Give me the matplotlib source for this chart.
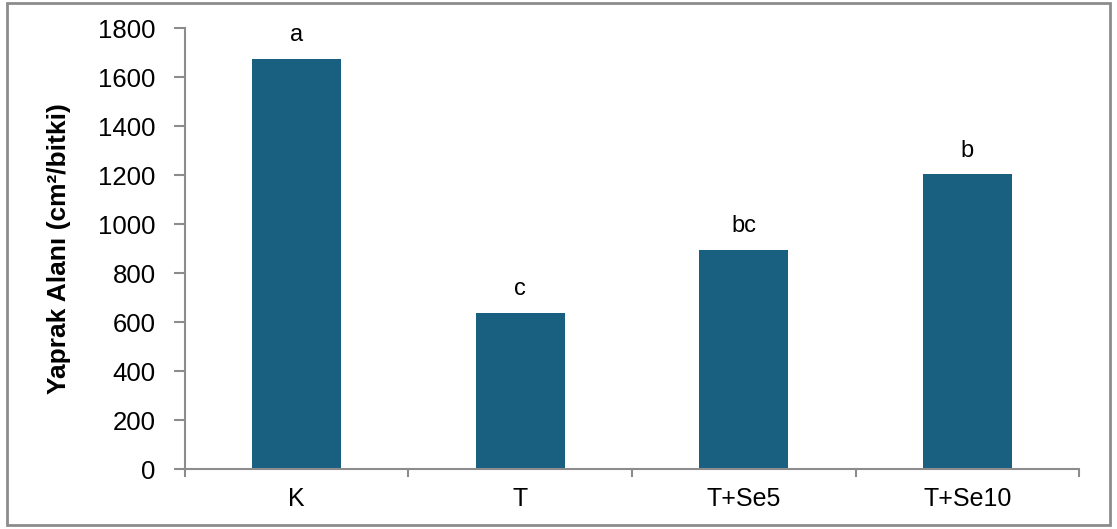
import matplotlib.pyplot as plt
from matplotlib.patches import Rectangle
import numpy as np

plt.rcParams['font.family'] = ['Liberation Sans', 'DejaVu Sans']

groups = ['K', 'T', 'T+Se5', 'T+Se10']
leaf_area = [1675, 637, 895, 1203]
letters = ['a', 'c', 'bc', 'b']

bar_color = '#185F80'
spine_color = '#8C8C8C'

fig = plt.figure(figsize=(11.17, 5.29), dpi=100)
ax = fig.add_axes([0.1656, 0.1134, 0.8004, 0.8336])

x = np.arange(len(groups))
bars = ax.bar(x, leaf_area, width=0.4, color=bar_color)

for rect, lab in zip(bars, letters):
    ax.annotate(lab, (rect.get_x() + rect.get_width() / 2, rect.get_height()),
                xytext=(0, 9), textcoords='offset points',
                ha='center', va='bottom', fontsize=17)

ax.set_xlim(-0.5, len(groups) - 0.5)
ax.set_ylim(0, 1800)
ax.set_yticks(range(0, 1801, 200))
ax.set_xticks(x)
ax.set_xticklabels(groups)
ax.set_xticks(np.arange(-0.5, len(groups)), minor=True)
ax.tick_params(axis='x', which='major', length=0, pad=13, labelsize=18)
ax.tick_params(axis='x', which='minor', length=6, color=spine_color, width=1.5)
ax.tick_params(axis='y', length=8, color=spine_color, width=1.5, pad=13, labelsize=18.5)

for s in ['top', 'right']:
    ax.spines[s].set_visible(False)
for s in ['left', 'bottom']:
    ax.spines[s].set_color(spine_color)
    ax.spines[s].set_linewidth(1.5)

ax.set_ylabel('Yaprak Alanı (cm²/bitki)', fontsize=19, fontweight='bold', labelpad=20)

fig.patches.append(Rectangle((0.006, 0.008), 0.988, 0.986, transform=fig.transFigure,
                             fill=False, edgecolor='#8C8C8C', linewidth=2))

plt.savefig('out.png', dpi=100)
